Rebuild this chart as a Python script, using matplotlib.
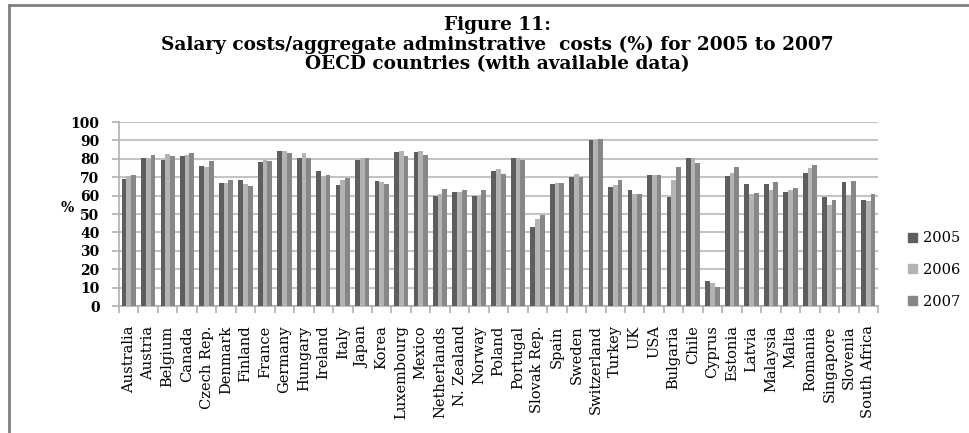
import numpy as np
import matplotlib
matplotlib.use("Agg")
import matplotlib.pyplot as plt
from matplotlib.patches import Rectangle
from matplotlib.lines import Line2D

countries = ["Australia", "Austria", "Belgium", "Canada", "Czech Rep.", "Denmark",
             "Finland", "France", "Germany", "Hungary", "Ireland", "Italy", "Japan",
             "Korea", "Luxembourg", "Mexico", "Netherlands", "N. Zealand", "Norway",
             "Poland", "Portugal", "Slovak Rep.", "Spain", "Sweden", "Switzerland",
             "Turkey", "UK", "USA", "Bulgaria", "Chile", "Cyprus", "Estonia", "Latvia",
             "Malaysia", "Malta", "Romania", "Singapore", "Slovenia", "South Africa"]

v2005 = [69.0, 80.2, 79.3, 81.5, 76.0, 66.8, 68.4, 78.2, 84.2, 80.2, 73.3, 65.7, 79.3,
         67.9, 83.7, 83.7, 60.0, 61.9, 60.0, 73.3, 80.2, 42.8, 66.2, 69.9, 90.0,
         64.6, 63.0, 71.1, 59.2, 80.2, 13.6, 70.6, 66.2, 66.2, 61.9, 72.2, 59.2, 67.3, 57.5]
v2006 = [70.6, 80.2, 82.6, 82.0, 75.5, 66.8, 66.4, 79.5, 84.2, 83.1, 70.8, 68.4, 80.2,
         67.3, 84.5, 84.2, 60.8, 61.9, 60.0, 74.4, 80.2, 47.4, 66.8, 71.7, 90.0,
         65.7, 60.8, 71.1, 68.4, 80.2, 12.3, 72.4, 60.8, 63.1, 63.0, 75.0, 54.8, 60.3, 57.0]
v2007 = [71.1, 82.0, 81.5, 83.3, 79.0, 68.4, 65.2, 78.8, 83.1, 80.2, 71.1, 69.7, 80.2,
         66.4, 81.5, 82.0, 63.5, 63.0, 63.0, 71.7, 79.3, 49.4, 66.8, 69.9, 90.7,
         68.4, 60.8, 71.1, 75.8, 77.7, 10.2, 75.5, 61.3, 67.3, 64.1, 76.6, 57.5, 67.9, 60.8]
years = ["2005", "2006", "2007"]
colors = ["#5e5e5e", "#b3b3b3", "#878787"]

W, H = 969, 433
fig = plt.figure(figsize=(W / 100, H / 100), dpi=100)
serif = ["DejaVu Serif"]

ax = fig.add_axes([119 / W, (H - 306) / H, (878 - 119) / W, (306 - 122) / H])
x = np.arange(len(countries))
bw = 0.245
series = [v2005, v2006, v2007]
for i, (vals, col) in enumerate(zip(series, colors)):
    ax.bar(x + (i - 1) * bw, vals, width=bw, color=col, linewidth=0, zorder=3)

ax.set_xlim(-0.5, len(countries) - 0.5)
ax.set_ylim(0, 100)
ax.set_yticks(np.arange(0, 101, 10))
ax.yaxis.grid(True, color="#c4c4c4", linewidth=1.5, zorder=0)
ax.set_axisbelow(True)
for s in ["top", "right"]:
    ax.spines[s].set_visible(False)
for s in ["left", "bottom"]:
    ax.spines[s].set_color("#b0b0b0")
    ax.spines[s].set_linewidth(1.2)

ax.set_xticks(x)
ax.set_xticklabels(countries, rotation=90, fontsize=10.5, family=serif)
ax.tick_params(axis="x", length=0, pad=14)
ax.set_xticks(np.arange(-0.5, len(countries), 1), minor=True)
ax.tick_params(axis="x", which="minor", length=5, color="#b0b0b0", width=1.2)
ax.tick_params(axis="y", length=5, color="#b0b0b0", width=1.2, pad=9)
for lab in ax.get_yticklabels():
    lab.set_family(serif)
    lab.set_fontsize(10)
    lab.set_fontweight("bold")

fig.text(67 / W, 1 - 208 / H, "%", fontsize=10, family=serif, fontweight="bold",
         ha="center", va="center")

title_kw = dict(fontsize=13.3, family=serif, fontweight="bold", ha="center", va="center")
fig.text(497 / W, 1 - 25 / H, "Figure 11:", **title_kw)
fig.text(497 / W, 1 - 45 / H,
         "Salary costs/aggregate adminstrative  costs (%) for 2005 to 2007", **title_kw)
fig.text(497 / W, 1 - 64 / H, "OECD countries (with available data)", **title_kw)

handles = [Rectangle((0, 0), 1, 1, color=c) for c in colors]
fig.legend(handles, years, loc="center left", bbox_to_anchor=(908 / W, 1 - 270 / H),
           frameon=False, prop={"family": serif, "size": 10.5},
           borderpad=0, borderaxespad=0,
           handlelength=0.6, handleheight=0.6, handletextpad=0.4, labelspacing=1.2)

# page frame: top and left rules
fig.add_artist(Line2D([9 / W, 1], [1 - 4.5 / H, 1 - 4.5 / H], color="#7f7f7f",
                      linewidth=2, transform=fig.transFigure))
fig.add_artist(Line2D([9 / W, 9 / W], [0, 1 - 4.5 / H], color="#7f7f7f",
                      linewidth=2, transform=fig.transFigure))

fig.savefig("out.png", dpi=100)
